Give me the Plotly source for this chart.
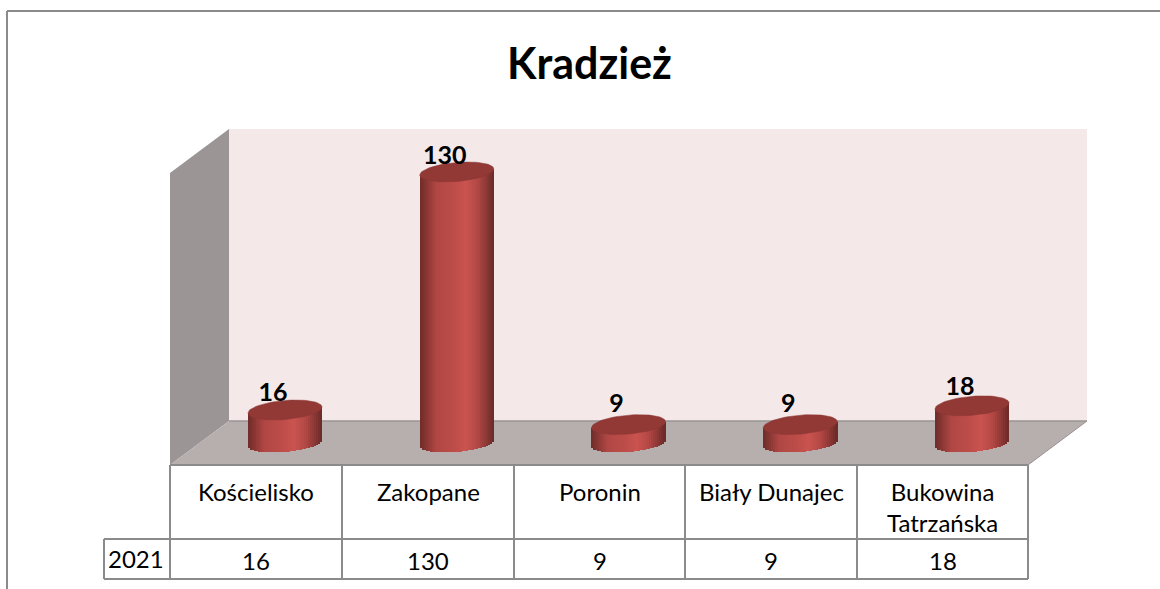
import math
import plotly.graph_objects as go

title = "Kradzież"
categories = ["Kościelisko", "Zakopane", "Poronin", "Biały Dunajec", "Bukowina<br>Tatrzańska"]
series_name = "2021"
values = [16, 130, 9, 9, 18]
label_gaps = [15, 14, 19, 19, 17]

W, H = 1160, 589
X0, DX = 285.0, 171.75      # pixel of first category, pixels per category
Y0, K = 443.4, 2.088        # pixel of value 0, pixels per value unit
FONT = "Lato"
GRID = "#8b8b8b"

x_range = [(0 - X0) / DX, (W - X0) / DX]
y_range = [(Y0 - H) / K, Y0 / K]

HALF_W = 37.0 / DX
TILT = 3.0 / K
SEMI = 9.5 / K
SEMI_LOW = 8.5 / K
N = 37

stops = [(0.0, (110, 44, 42)), (0.10, (140, 56, 53)), (0.22, (176, 71, 68)), (0.45, (188, 76, 72)),
         (0.62, (202, 83, 79)), (0.78, (178, 71, 68)), (0.90, (140, 56, 53)), (1.0, (104, 41, 39))]


def shade(t):
    for (a, ca), (b, cb) in zip(stops, stops[1:]):
        if t <= b:
            f = (t - a) / (b - a)
            return "rgb(%d,%d,%d)" % tuple(round(p + (q - p) * f) for p, q in zip(ca, cb))
    return "rgb(104,41,39)"


fig = go.Figure()

# cylinder bodies, one vertical strip at a time
for j in range(N):
    t = (j + 0.5) / N
    u = 2 * t - 1
    arc = SEMI_LOW * math.sqrt(1 - u * u)
    low = TILT * u - arc
    offs = u * HALF_W
    fig.add_trace(go.Bar(
        x=[i + offs for i in range(len(values))],
        y=[v + TILT * u - low for v in values],
        base=low,
        width=2 * HALF_W / N * 1.25,
        marker=dict(color=shade(t), line=dict(width=0)),
        hoverinfo="skip", showlegend=False,
    ))

# cylinder tops
for i, v in enumerate(values):
    xs, ys = [], []
    for a in range(73):
        th = 2 * math.pi * a / 72
        u = math.cos(th)
        xs.append(i + HALF_W * u)
        ys.append(v + TILT * u + SEMI * math.sin(th))
    fig.add_trace(go.Scatter(x=xs, y=ys, mode="lines", fill="toself", fillcolor="#923936",
                             line=dict(color="#8a3633", width=0.5), hoverinfo="skip", showlegend=False))

# data labels
fig.add_trace(go.Scatter(
    x=[i - 12 / DX for i in range(len(values))],
    y=[v + g / K for v, g in zip(values, label_gaps)],
    text=[str(v) for v in values], mode="text", textposition="middle center",
    textfont=dict(family=FONT, size=25, color="#000000", weight="bold"),
    cliponaxis=False, hoverinfo="skip", showlegend=False,
))


def px(x):
    return x / W


def py(y):
    return 1 - y / H


def poly(points, fill, line=None, width=0):
    path = "M " + " L ".join(f"{px(a):.5f},{py(b):.5f}" for a, b in points) + " Z"
    fig.add_shape(type="path", xref="paper", yref="paper", path=path, fillcolor=fill,
                  line=dict(color=line or fill, width=width), layer="below")


def seg(x0, y0, x1, y1, width=2, color=GRID):
    fig.add_shape(type="line", xref="paper", yref="paper", x0=px(x0), y0=py(y0), x1=px(x1), y1=py(y1),
                  line=dict(color=color, width=width), layer="below")


# walls and floor
poly([(229, 129), (1087, 129), (1087, 421), (229, 421)], "#f4e8e8")
poly([(170, 173), (229, 129), (229, 421), (170, 465)], "#9b9695")
poly([(229, 421), (1087, 421), (1028, 465), (170, 465)], "#b7aeae")
seg(229, 421, 1087, 421, 1.5, "#9a9494")
seg(1087, 421, 1028, 465, 1, "#9a9494")

# chart border
seg(7, 11, 1160, 11)
seg(7, 11, 7, 589)

# data table
cols = [170, 342, 514, 685, 857, 1028]
seg(170, 465, 1028, 465)
seg(104, 539, 1028, 539)
seg(104, 579, 1028, 579)
seg(104, 539, 104, 579)
for c in cols:
    seg(c, 465, c, 579)

annos = [dict(text=f"<b>{title}</b>", xref="paper", yref="paper", x=px(589), y=py(62), showarrow=False,
              font=dict(family=FONT, size=43, color="#000000"), xanchor="center", yanchor="middle")]
for i, (c, v) in enumerate(zip(categories, values)):
    cx = (cols[i] + cols[i + 1]) / 2
    cy = 491 if "<br>" not in c else 507
    annos.append(dict(text=c, xref="paper", yref="paper", x=px(cx), y=py(cy), showarrow=False,
                      font=dict(family=FONT, size=24, color="#000000"), xanchor="center", yanchor="middle",
                      align="center"))
    annos.append(dict(text=str(v), xref="paper", yref="paper", x=px(cx), y=py(560), showarrow=False,
                      font=dict(family=FONT, size=24, color="#000000"), xanchor="center", yanchor="middle"))
annos.append(dict(text=series_name, xref="paper", yref="paper", x=px(136), y=py(558), showarrow=False,
                  font=dict(family=FONT, size=24, color="#000000"), xanchor="center", yanchor="middle"))

fig.update_layout(
    width=W, height=H, autosize=False,
    margin=dict(l=0, r=0, t=0, b=0),
    paper_bgcolor="#ffffff", plot_bgcolor="rgba(0,0,0,0)",
    barmode="overlay", bargap=0,
    showlegend=False,
    annotations=annos,
    xaxis=dict(range=x_range, visible=False, fixedrange=True),
    yaxis=dict(range=y_range, visible=False, fixedrange=True),
)

fig.write_html("out.html", config={"displayModeBar": False},
               post_script="document.body.style.margin='0';document.documentElement.style.overflow='hidden';")
